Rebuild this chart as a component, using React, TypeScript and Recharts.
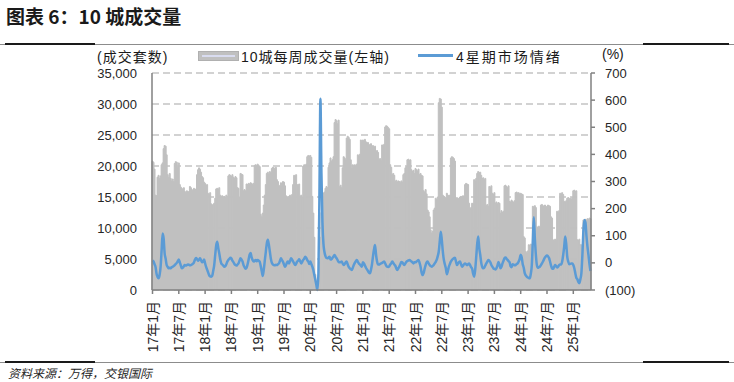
import React from 'react';
import { ComposedChart, Bar, Line, XAxis, YAxis, CartesianGrid } from 'recharts';

// 半年刻度
const tickLabels = [
  '17年1月', '17年7月', '18年1月', '18年7月', '19年1月', '19年7月', '20年1月', '20年7月',
  '21年1月', '21年7月', '22年1月', '22年7月', '23年1月', '23年7月', '24年1月', '24年7月', '25年1月',
];

// 10城每周成交量(套), 每年52周
const vol2017 = [20800,20600,19500,15300,15200,18200,18500,18000,18400,20200,20500,22800,23300,23200,21800,18600,18200,18800,18000,17600,17900,17500,20400,20700,20600,19800,20500,17000,16600,16400,16200,16500,15900,15700,16000,15800,15900,16700,16500,16200,16000,16400,16100,16300,18600,19400,19700,19500,19000,18300,18100,17400];
const vol2018 = [17200,16900,17000,15600,15400,15700,13900,13700,13800,14000,14800,16300,16400,16200,16500,15300,15100,15200,14900,15100,15000,15300,15100,18400,18600,18500,18300,18600,18200,18000,18300,18100,16500,16400,15000,18800,18700,18600,16000,16200,16000,17100,17000,17200,17100,17300,17200,17000,17200,20100,20200,20000];
const vol2019 = [20300,20100,19900,12200,11800,12400,13700,15300,17000,18800,19000,18700,19100,18900,19600,19800,19700,19500,19800,17800,17500,16900,16700,17300,16800,17500,17400,16800,15200,15000,14800,15100,15300,15000,15400,17000,18500,18400,18600,17000,16900,17100,15100,15300,15000,20000,20200,20100,20300,21500,21700,21600];
const vol2020 = [21700,21400,15100,12400,8500,2500,900,700,1500,4500,8500,12500,15200,15600,15800,16400,16700,16500,19800,20500,21300,20800,21000,21500,27000,27500,27300,26800,27400,16700,16900,16500,19700,21500,21300,21000,24500,24800,24600,24300,21000,19700,20200,19900,20200,20000,20300,21800,21600,21900,24200,24000];
const vol2021 = [24200,24000,24300,23900,23700,23800,23500,23300,23600,23200,23300,23000,23200,22300,22500,22200,21000,21200,20900,23400,23300,23500,26300,26500,26400,26200,26000,20200,19800,18600,18800,18500,17500,17700,17400,17600,17500,17300,17600,17400,18600,18800,19700,19900,21000,21100,20900,21000,19400,19100,19300,18800];
const vol2022 = [19600,19400,19200,19500,18600,18800,18500,18400,16000,15800,16200,15500,12900,12600,11800,9700,9200,9500,12900,13200,14800,14600,15000,30200,30900,30800,29500,15300,15100,15000,14800,15600,15300,15200,15300,21300,21500,21400,21200,20800,14800,14900,14700,14800,15000,15100,14900,15200,15100,17000,17200,17100];
const vol2023 = [17000,14000,13100,13300,14000,13900,17800,17600,18000,18800,19100,18900,19000,18500,18000,18100,17800,18000,13600,13800,13500,16700,16500,16800,15600,15400,15700,14000,14200,13900,14100,14000,12400,12800,12500,12700,16800,16900,16700,16500,16800,14300,14200,14500,14300,14100,14400,15700,15800,15600,15700,15500];
const vol2024 = [15600,15500,15400,8600,8400,6200,6000,6300,7300,7200,7400,7300,13500,13400,13600,13300,10200,10000,10300,10100,13700,13800,13500,13600,13700,13500,13400,13700,13600,13500,11800,11600,8100,8000,8200,8100,12700,12500,12800,15600,15500,15700,15400,14300,14200,14400,14800,14900,14700,14800,14600,14900];
const vol2025 = [16000,16100,15900,16000,8100,8000,8200,7300,7200,7400,11300,11200,11400,11300,11500,11400,11600,11500];

// 4星期市场情绪(%)
const sent2017 = [8,5,-5,-15,-40,-52,-57,-45,-15,45,108,90,35,15,-8,-15,-20,-18,-20,-16,-14,-12,-8,-4,0,6,12,2,-10,-20,-18,-12,-8,-10,-8,-6,-7,-9,-8,-6,-3,2,12,18,14,8,12,17,10,2,5,12];
const sent2018 = [-2,-15,-25,-35,-45,-50,-51,-48,-30,-8,30,65,78,55,35,12,-2,-6,-10,-14,-12,-5,5,11,15,19,16,8,3,-4,-8,-10,-6,-2,8,17,12,5,-8,-16,-22,-18,-5,12,30,36,20,10,5,8,11,6];
const sent2019 = [11,8,4,-12,-30,-48,-25,8,40,72,85,68,42,15,0,-6,-8,-9,-7,-8,-5,-2,8,17,10,4,-6,-14,-8,2,5,-2,8,17,12,5,-2,-8,-3,5,8,13,6,-2,4,11,16,23,18,10,5,-4];
const sent2020 = [5,-4,-14,-26,-45,-62,-82,-100,-40,240,605,330,150,70,40,25,18,17,20,23,12,14,19,24,29,22,17,10,4,2,3,5,-2,-8,-4,2,5,-6,-15,-20,-24,-26,-18,-8,0,6,11,4,-2,-6,-10,-14];
const sent2021 = [2,-2,-10,-18,-24,-30,-36,-38,-25,-5,25,50,66,30,5,-6,-6,-4,-2,0,3,5,-2,-10,-14,-15,-13,-6,-2,5,0,-6,-10,-20,-26,-20,-14,-5,3,2,-4,-8,-2,4,7,9,11,8,5,2,-2,2];
const sent2022 = [2,5,8,11,0,-14,-35,-45,-38,-22,-8,2,5,-2,-8,-12,-14,-11,-8,-2,4,12,25,42,80,115,85,42,12,-5,-20,-42,-30,-14,-4,5,11,15,18,19,5,-8,-2,3,5,-5,-14,-10,-5,-2,-5,-8];
const sent2023 = [-5,-2,-8,-16,-22,-40,-51,-25,20,70,97,55,30,0,-15,-20,-18,-10,-2,5,11,8,2,-8,-14,-20,-22,-24,-20,-10,3,-6,-20,-14,-2,8,17,20,15,11,6,2,-12,-16,-5,-6,-9,-8,-4,-2,5,15];
const sent2024 = [30,20,-5,-18,-38,-46,-51,-54,-56,-57,-40,-8,80,168,90,30,-8,-18,-16,-14,-8,-2,5,13,20,25,27,24,18,5,-10,-20,-22,-15,-8,-12,-17,-14,-8,-6,-6,5,29,60,97,70,23,5,-5,-4,-2,-2];
const sent2025 = [-8,-20,-38,-55,-60,-70,-75,-60,-38,30,120,158,150,100,60,29,-5,-30];

const leftTicks = [0, 5000, 10000, 15000, 20000, 25000, 30000, 35000];
const rightTicks = [-100, 0, 100, 200, 300, 400, 500, 600, 700];

const volumes = [...vol2017, ...vol2018, ...vol2019, ...vol2020, ...vol2021, ...vol2022, ...vol2023, ...vol2024, ...vol2025];
const sentiment = [...sent2017, ...sent2018, ...sent2019, ...sent2020, ...sent2021, ...sent2022, ...sent2023, ...sent2024, ...sent2025];
const chartData = volumes.map((v, i) => ({ i, vol: v, sent: sentiment[i] }));

// every half year = 26 weeks
const tickAt = new Map(tickLabels.map((t, k) => [k * 26, t]));

const LATIN = '"Liberation Sans", Arial, sans-serif';
const CJK = '"Liberation Sans", "Noto Sans CJK SC", sans-serif';
const AXIS = '#808080';

const XTick = (props: any) => {
  const { x, y, payload } = props;
  const label = tickAt.get(payload.value);
  if (!label) return <g />;
  const ty = y + 11;
  return (
    <g>
      <line x1={x} y1={y} x2={x} y2={y + 4} stroke={AXIS} strokeWidth={1.5} />
      <text
        x={x}
        y={ty}
        transform={`rotate(-90, ${x}, ${ty})`}
        textAnchor="end"
        dominantBaseline="central"
        fontSize={14}
        fill="#262626"
        fontFamily={CJK}
      >
        {label}
      </text>
    </g>
  );
};

const Rule = ({ top }: { top: number }) => (
  <>
    <div style={{ position: 'absolute', left: 0, top, width: 734, height: 1, background: '#8c8c8c' }} />
    <div style={{ position: 'absolute', left: 5, top: top - 1, width: 90, height: 2, background: '#1a1a1a' }} />
    <div style={{ position: 'absolute', left: 643, top: top - 1, width: 86, height: 2, background: '#1a1a1a' }} />
  </>
);

export default function App() {
  return (
    <div
      style={{
        position: 'absolute',
        left: 0,
        top: 0,
        width: 734,
        height: 382,
        background: '#fff',
        fontFamily: CJK,
        color: '#1a1a1a',
      }}
    >
      <div
        style={{
          position: 'absolute',
          left: 6,
          top: 2,
          fontSize: 19,
          fontWeight: 700,
          fontFamily: '"Noto Sans CJK SC", sans-serif',
          whiteSpace: 'nowrap',
        }}
      >
        图表 6：10 城成交量
      </div>
      <Rule top={44} />

      <ComposedChart
        width={734}
        height={365}
        data={chartData}
        margin={{ top: 73, right: 83, bottom: 13, left: 92 }}
        barCategoryGap={0}
        barGap={0}
        style={{ position: 'absolute', left: 0, top: 0 }}
      >
        <CartesianGrid yAxisId="left" vertical={false} stroke="#a6a6a6" strokeDasharray="7 4" strokeWidth={1.2} />
        <XAxis
          dataKey="i"
          type="category"
          interval={0}
          height={62}
          tick={<XTick />}
          tickLine={false}
          tickSize={0}
          tickMargin={0}
          axisLine={{ stroke: AXIS, strokeWidth: 1.5 }}
        />
        <YAxis
          yAxisId="left"
          width={60}
          domain={[0, 35000]}
          ticks={leftTicks}
          interval={0}
          tickFormatter={(v: number) => v.toLocaleString('en-US')}
          tickLine={false}
          tickSize={0}
          tickMargin={15}
          axisLine={{ stroke: AXIS, strokeWidth: 1.5 }}
          tick={{ fontSize: 13, fill: '#262626', fontFamily: LATIN }}
        />
        <YAxis
          yAxisId="right"
          orientation="right"
          width={60}
          domain={[-100, 700]}
          ticks={rightTicks}
          interval={0}
          tickFormatter={(v: number) => (v < 0 ? `(${Math.abs(v)})` : `${v}`)}
          tickSize={4}
          tickMargin={10}
          tickLine={{ stroke: AXIS, strokeWidth: 1.5 }}
          axisLine={{ stroke: AXIS, strokeWidth: 1.5 }}
          tick={{ fontSize: 13, fill: '#262626', fontFamily: LATIN }}
        />
        <Bar yAxisId="left" dataKey="vol" fill="#c0c0c0" stroke="#c0c0c0" strokeWidth={1} isAnimationActive={false} />
        <Line
          yAxisId="right"
          dataKey="sent"
          type="monotone"
          stroke="#5b9bd5"
          strokeWidth={2.5}
          dot={false}
          activeDot={false}
          isAnimationActive={false}
        />
      </ComposedChart>

      {/* legend row */}
      <div style={{ position: 'absolute', left: 97, top: 46, fontSize: 14, whiteSpace: 'nowrap', letterSpacing: 1 }}>
        (成交套数)
      </div>
      <div
        style={{
          position: 'absolute',
          left: 198,
          top: 51,
          width: 39,
          height: 8,
          background: '#c0c0c0',
          border: '1px solid #b0b0b0',
        }}
      >
        <div style={{ position: 'absolute', left: 3, right: 3, top: 3, height: 2, background: '#d9dcf0' }} />
      </div>
      <div style={{ position: 'absolute', left: 241, top: 46, fontSize: 14, whiteSpace: 'nowrap', letterSpacing: 1 }}>
        10城每周成交量(左轴)
      </div>
      <div style={{ position: 'absolute', left: 418, top: 54, width: 35, height: 3, background: '#5b9bd5' }} />
      <div style={{ position: 'absolute', left: 456, top: 46, fontSize: 14, whiteSpace: 'nowrap', letterSpacing: 2 }}>
        4星期市场情绪
      </div>
      <div style={{ position: 'absolute', left: 602, top: 46, fontSize: 14, whiteSpace: 'nowrap' }}>(%)</div>

      <Rule top={362} />
      <div
        style={{
          position: 'absolute',
          left: 8,
          top: 364,
          fontSize: 12,
          fontStyle: 'italic',
          whiteSpace: 'nowrap',
          color: '#262626',
        }}
      >
        资料来源：万得，交银国际
      </div>
    </div>
  );
}
